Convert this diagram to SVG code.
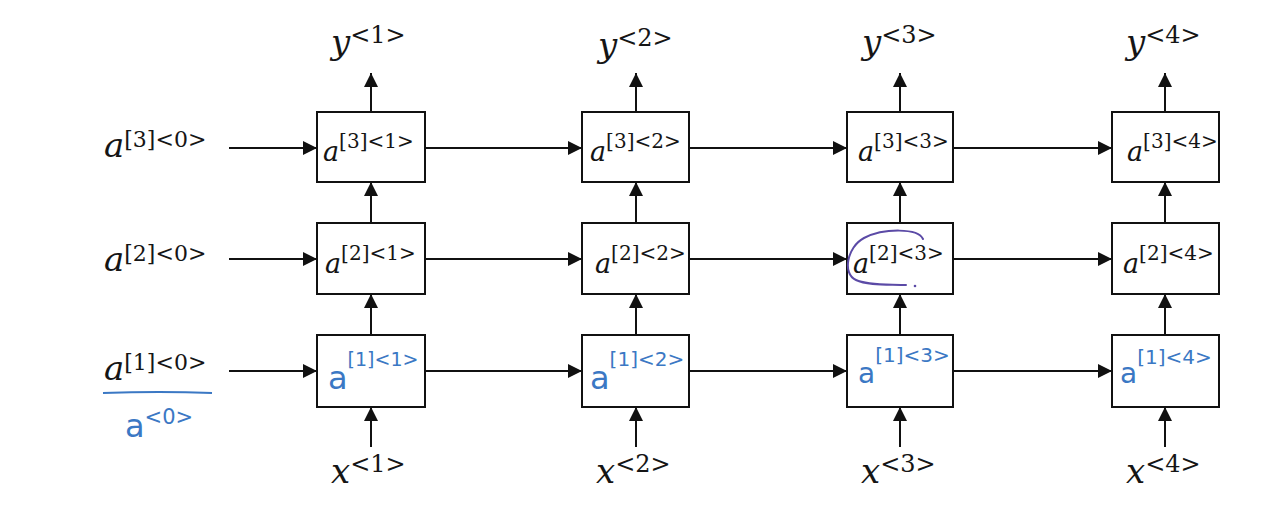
<svg xmlns="http://www.w3.org/2000/svg" width="1284" height="512" viewBox="0 0 1284 512">
<style>
.box{fill:#fff;stroke:#111;stroke-width:2}
.ln{stroke:#111;stroke-width:2;fill:none}
.m{font-family:"DejaVu Serif",serif;font-style:italic;fill:#151515}
.s{font-family:"DejaVu Serif",serif;font-style:normal;fill:#151515}
.h{font-family:"DejaVu Sans",sans-serif;fill:#3b78c4}
</style>
<defs>
<marker id="ah" viewBox="0 0 10 10" refX="10" refY="5" markerWidth="15" markerHeight="14" markerUnits="userSpaceOnUse" orient="auto">
<path d="M0,0 L10,5 L0,10 z" fill="#111"/>
</marker>
</defs>
<rect width="1284" height="512" fill="#fff"/>
<g id="connectors">
<line class="ln" x1="229" y1="148" x2="317" y2="148" marker-end="url(#ah)"/>
<line class="ln" x1="229" y1="259" x2="317" y2="259" marker-end="url(#ah)"/>
<line class="ln" x1="229" y1="371" x2="317" y2="371" marker-end="url(#ah)"/>
<line class="ln" x1="425" y1="148" x2="582" y2="148" marker-end="url(#ah)"/>
<line class="ln" x1="425" y1="259" x2="582" y2="259" marker-end="url(#ah)"/>
<line class="ln" x1="425" y1="371" x2="582" y2="371" marker-end="url(#ah)"/>
<line class="ln" x1="689" y1="148" x2="847" y2="148" marker-end="url(#ah)"/>
<line class="ln" x1="689" y1="259" x2="847" y2="259" marker-end="url(#ah)"/>
<line class="ln" x1="689" y1="371" x2="847" y2="371" marker-end="url(#ah)"/>
<line class="ln" x1="953" y1="148" x2="1112" y2="148" marker-end="url(#ah)"/>
<line class="ln" x1="953" y1="259" x2="1112" y2="259" marker-end="url(#ah)"/>
<line class="ln" x1="953" y1="371" x2="1112" y2="371" marker-end="url(#ah)"/>
<line class="ln" x1="371" y1="112" x2="371" y2="73" marker-end="url(#ah)"/>
<line class="ln" x1="371" y1="223" x2="371" y2="182" marker-end="url(#ah)"/>
<line class="ln" x1="371" y1="335" x2="371" y2="294" marker-end="url(#ah)"/>
<line class="ln" x1="371" y1="447" x2="371" y2="407" marker-end="url(#ah)"/>
<line class="ln" x1="636" y1="112" x2="636" y2="73" marker-end="url(#ah)"/>
<line class="ln" x1="636" y1="223" x2="636" y2="182" marker-end="url(#ah)"/>
<line class="ln" x1="636" y1="335" x2="636" y2="294" marker-end="url(#ah)"/>
<line class="ln" x1="636" y1="447" x2="636" y2="407" marker-end="url(#ah)"/>
<line class="ln" x1="900" y1="112" x2="900" y2="73" marker-end="url(#ah)"/>
<line class="ln" x1="900" y1="223" x2="900" y2="182" marker-end="url(#ah)"/>
<line class="ln" x1="900" y1="335" x2="900" y2="294" marker-end="url(#ah)"/>
<line class="ln" x1="900" y1="447" x2="900" y2="407" marker-end="url(#ah)"/>
<line class="ln" x1="1165" y1="112" x2="1165" y2="73" marker-end="url(#ah)"/>
<line class="ln" x1="1165" y1="223" x2="1165" y2="182" marker-end="url(#ah)"/>
<line class="ln" x1="1165" y1="335" x2="1165" y2="294" marker-end="url(#ah)"/>
<line class="ln" x1="1165" y1="447" x2="1165" y2="407" marker-end="url(#ah)"/>
</g>
<g id="init-labels">
<text class="m" x="104" y="157" font-size="34">a<tspan class="s" font-size="22" dy="-10">[3]&lt;0&gt;</tspan></text>
<text class="m" x="104" y="271" font-size="34">a<tspan class="s" font-size="22" dy="-10">[2]&lt;0&gt;</tspan></text>
<text class="m" x="104" y="380" font-size="34">a<tspan class="s" font-size="22" dy="-10">[1]&lt;0&gt;</tspan></text>
<path d="M103,393 Q160,391 212,393" stroke="#3b78c4" stroke-width="2" fill="none"/>
<text class="h" x="125" y="437" font-size="32">a<tspan font-size="21" dy="-13">&lt;0&gt;</tspan></text>
</g>
<g id="outputs">
<text class="m" x="331" y="54" font-size="34">y<tspan class="s" font-size="24" dy="-11">&lt;1&gt;</tspan></text>
<text class="m" x="598" y="57" font-size="34">y<tspan class="s" font-size="24" dy="-11">&lt;2&gt;</tspan></text>
<text class="m" x="862" y="54" font-size="34">y<tspan class="s" font-size="24" dy="-11">&lt;3&gt;</tspan></text>
<text class="m" x="1126" y="54" font-size="34">y<tspan class="s" font-size="24" dy="-11">&lt;4&gt;</tspan></text>
</g>
<g id="inputs">
<text class="m" x="331" y="483" font-size="34">x<tspan class="s" font-size="24" dy="-11">&lt;1&gt;</tspan></text>
<text class="m" x="596" y="483" font-size="34">x<tspan class="s" font-size="24" dy="-11">&lt;2&gt;</tspan></text>
<text class="m" x="861" y="483" font-size="34">x<tspan class="s" font-size="24" dy="-11">&lt;3&gt;</tspan></text>
<text class="m" x="1126" y="483" font-size="34">x<tspan class="s" font-size="24" dy="-11">&lt;4&gt;</tspan></text>
</g>
<g id="node-3-1"><rect class="box" x="317" y="112" width="108" height="70"/><text class="m" x="323" y="161" font-size="27">a<tspan class="s" font-size="20" dy="-13">[3]&lt;1&gt;</tspan></text></g>
<g id="node-2-1"><rect class="box" x="317" y="223" width="108" height="71"/><text class="m" x="325" y="273" font-size="27">a<tspan class="s" font-size="20" dy="-13">[2]&lt;1&gt;</tspan></text></g>
<g id="node-1-1"><rect class="box" x="317" y="335" width="108" height="72"/><text class="h" x="328" y="389" font-size="32">a<tspan font-size="19" dy="-23">[1]&lt;1&gt;</tspan></text></g>
<g id="node-3-2"><rect class="box" x="582" y="112" width="107" height="70"/><text class="m" x="590" y="161" font-size="27">a<tspan class="s" font-size="20" dy="-13">[3]&lt;2&gt;</tspan></text></g>
<g id="node-2-2"><rect class="box" x="582" y="223" width="107" height="71"/><text class="m" x="595" y="273" font-size="27">a<tspan class="s" font-size="20" dy="-13">[2]&lt;2&gt;</tspan></text></g>
<g id="node-1-2"><rect class="box" x="582" y="335" width="107" height="72"/><text class="h" x="590" y="389" font-size="32">a<tspan font-size="20" dy="-23">[1]&lt;2&gt;</tspan></text></g>
<g id="node-3-3"><rect class="box" x="847" y="112" width="106" height="70"/><text class="m" x="858" y="161" font-size="27">a<tspan class="s" font-size="20" dy="-13">[3]&lt;3&gt;</tspan></text></g>
<g id="node-2-3"><rect class="box" x="847" y="223" width="106" height="71"/><text class="m" x="853" y="273" font-size="27">a<tspan class="s" font-size="20" dy="-13">[2]&lt;3&gt;</tspan></text>
<path d="M923,239 C918,228 884,228 864,238 C847,247 842,274 856,280 C868,286 892,284 906,285" stroke="#5b4aa6" stroke-width="2" fill="none" stroke-linecap="round"/>
<circle cx="915" cy="286" r="1.3" fill="#5b4aa6"/></g>
<g id="node-3-4"><rect class="box" x="1112" y="112" width="107" height="70"/><text class="m" x="1127" y="161" font-size="27">a<tspan class="s" font-size="20" dy="-13">[3]&lt;4&gt;</tspan></text></g>
<g id="node-2-4"><rect class="box" x="1112" y="223" width="107" height="71"/><text class="m" x="1123" y="273" font-size="27">a<tspan class="s" font-size="20" dy="-13">[2]&lt;4&gt;</tspan></text></g>
<g id="node-1-3"><rect class="box" x="847" y="335" width="106" height="72"/><text class="h" x="858" y="383" font-size="28">a<tspan font-size="20" dy="-21">[1]&lt;3&gt;</tspan></text></g>
<g id="node-1-4"><rect class="box" x="1112" y="335" width="107" height="72"/><text class="h" x="1120" y="383" font-size="28">a<tspan font-size="20" dy="-19">[1]&lt;4&gt;</tspan></text></g>
</svg>
